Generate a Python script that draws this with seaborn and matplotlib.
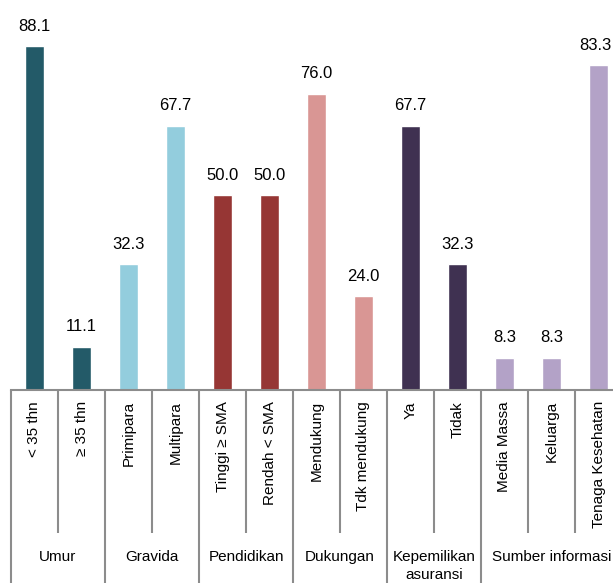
import matplotlib
matplotlib.use('Agg')
import matplotlib.pyplot as plt
import seaborn as sns
import pandas as pd

# data
items = ['< 35 thn', '≥ 35 thn', 'Primipara', 'Multipara', 'Tinggi ≥ SMA', 'Rendah < SMA',
         'Mendukung', 'Tdk mendukung', 'Ya', 'Tidak', 'Media Massa', 'Keluarga',
         'Tenaga Kesehatan']
values = [88.1, 11.1, 32.3, 67.7, 50.0, 50.0, 76.0, 24.0, 67.7, 32.3, 8.3, 8.3, 83.3]
groups = ['Umur', 'Umur', 'Gravida', 'Gravida', 'Pendidikan', 'Pendidikan',
          'Dukungan', 'Dukungan', 'Kepemilikan\nasuransi', 'Kepemilikan\nasuransi',
          'Sumber informasi', 'Sumber informasi', 'Sumber informasi']
group_colors = ['#235a68', '#93cddd', '#963634', '#d99694', '#3f3151', '#b3a2c7']

sns.set_theme(style='white')
plt.rcParams['font.family'] = ['Liberation Sans', 'DejaVu Sans']

df = pd.DataFrame({'item': items, 'value': values, 'group': groups})
group_names = list(dict.fromkeys(groups))

fig = plt.figure(figsize=(6.13, 5.83), dpi=100)
W, H = 613, 583
x0, base, x1 = 11, 390, 622
ax = fig.add_axes([x0 / W, (H - base) / H, (x1 - x0) / W, base / H])

sns.barplot(data=df, x='item', y='value', hue='group', hue_order=group_names,
            palette=group_colors, dodge=False, width=0.4, legend=False, ax=ax,
            saturation=1)

ax.set_ylim(0, 100)
ax.set_xlim(-0.5, len(items) - 0.5)
ax.set_yticks([])
ax.set_xlabel('')
ax.set_ylabel('')
for s in ['top', 'right', 'left']:
    ax.spines[s].set_visible(False)
ax.spines['bottom'].set_color('#8c8c8c')
ax.spines['bottom'].set_linewidth(1.5)

ax.set_xticks(range(len(items)))
ax.set_xticklabels(items, rotation=90, fontsize=11, color='black')
ax.tick_params(axis='x', length=0, pad=8)

# value labels; the last one sits against the figure edge, nudge it inside
for i, v in enumerate(values):
    dx = -2 if i == len(values) - 1 else 0
    ax.annotate(f'{v:.1f}', (i, v + 3.2), xytext=(dx, 0), textcoords='offset points',
                ha='center', va='bottom', fontsize=12, color='black')

# separators below the axis
trans = ax.get_xaxis_transform()
short_end = -(533 - base) / base
long_end = -(H - base) / base
bounds = [-0.5]
for i in range(1, len(items)):
    if groups[i] != groups[i - 1]:
        bounds.append(i - 0.5)
bounds.append(len(items) - 0.5)
for i in range(len(items) + 1):
    xb = i - 0.5
    end = long_end if xb in bounds else short_end
    ax.plot([xb, xb], [0, end], transform=trans, color='#8c8c8c', lw=1.5,
            clip_on=False, solid_capstyle='butt')

for g_start, g_end in zip(bounds[:-1], bounds[1:]):
    name = groups[int(g_start + 0.5)]
    ax.text((g_start + g_end) / 2, -(550 - base) / base, name, transform=trans,
            ha='center', va='top', fontsize=11, color='black', linespacing=1.4)

fig.savefig('out.png', dpi=100)
